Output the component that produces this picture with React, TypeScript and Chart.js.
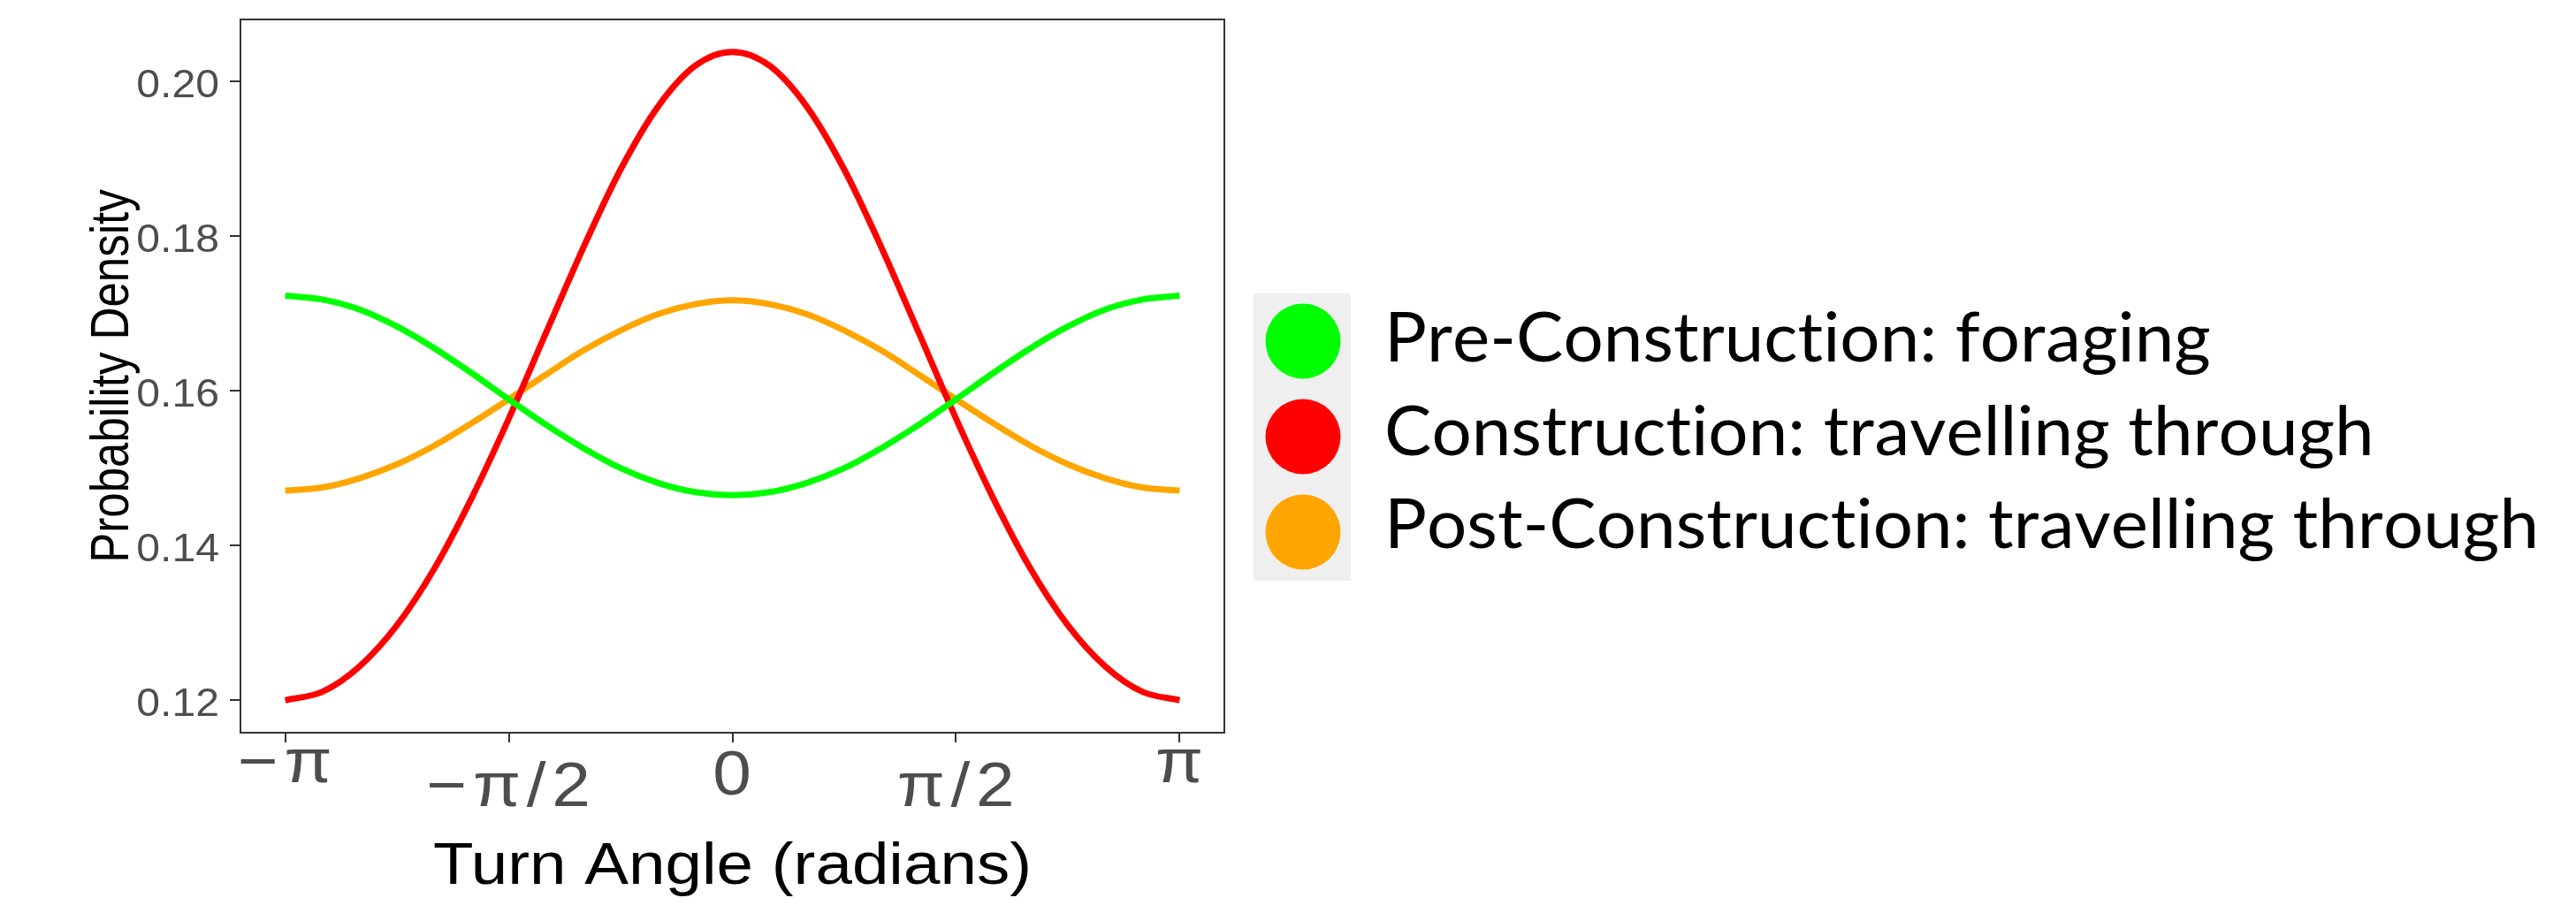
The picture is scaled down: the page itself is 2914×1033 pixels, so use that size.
import React, { useEffect, useRef } from "react";
import { Chart, registerables } from "chart.js";

Chart.register(...registerables);

// Turn angle (radians), sampled every pi/12 from -pi to pi
const ANGLES = [
  -3.1416, -2.8798, -2.618, -2.3562, -2.0944, -1.8326, -1.5708, -1.309, -1.0472,
  -0.7854, -0.5236, -0.2618, 0, 0.2618, 0.5236, 0.7854, 1.0472, 1.309, 1.5708,
  1.8326, 2.0944, 2.3562, 2.618, 2.8798, 3.1416,
];

// Probability density per behavioural state
const PRE_FORAGING = [
  0.1723, 0.1718, 0.1705, 0.1683, 0.1655, 0.1623, 0.1589, 0.1556, 0.1526, 0.15,
  0.1481, 0.1469, 0.1465, 0.1469, 0.1481, 0.15, 0.1526, 0.1556, 0.1589, 0.1623,
  0.1655, 0.1683, 0.1705, 0.1718, 0.1723,
];
const CONSTRUCTION_TRAVEL = [
  0.12, 0.1211, 0.1244, 0.1297, 0.137, 0.1461, 0.1564, 0.1675, 0.1785, 0.1886,
  0.1967, 0.202, 0.2038, 0.202, 0.1967, 0.1886, 0.1785, 0.1675, 0.1564, 0.1461,
  0.137, 0.1297, 0.1244, 0.1211, 0.12,
];
const POST_TRAVEL = [
  0.1471, 0.1475, 0.1487, 0.1505, 0.1529, 0.1558, 0.1589, 0.1621, 0.1652, 0.1678,
  0.1699, 0.1712, 0.1717, 0.1712, 0.1699, 0.1678, 0.1652, 0.1621, 0.1589, 0.1558,
  0.1529, 0.1505, 0.1487, 0.1475, 0.1471,
];

const SERIES_NAMES = [
  "Pre-Construction: foraging",
  "Construction: travelling through",
  "Post-Construction: travelling through",
];
const SERIES_VALUES = [PRE_FORAGING, CONSTRUCTION_TRAVEL, POST_TRAVEL];
const SERIES_COLORS = ["#00ff00", "#ff0000", "#ffa500"];

const X_TICKS = [-3.1416, -1.5708, 0, 1.5708, 3.1416];
const X_TICK_LABELS = ["−π", "−π/2", "0", "π/2", "π"];
const Y_TICKS = [0.12, 0.14, 0.16, 0.18, 0.2];
const Y_TICK_LABELS = ["0.12", "0.14", "0.16", "0.18", "0.20"];

const X_TITLE = "Turn Angle (radians)";
const Y_TITLE = "Probability Density";

const W = 2914;
const H = 1033;
const AXIS_FONT = '"Liberation Sans", Arial, Helvetica, sans-serif';

// 5% expansion of the data range on both axes
function expanded(values: number[]) {
  const lo = Math.min(...values);
  const hi = Math.max(...values);
  const pad = (hi - lo) * 0.05;
  return [lo - pad, hi + pad];
}

function stretchedText(
  ctx: CanvasRenderingContext2D,
  text: string,
  x: number,
  y: number,
  sx: number,
  sy = 1,
  rot = 0
) {
  ctx.save();
  ctx.translate(x, y);
  if (rot) ctx.rotate(rot);
  ctx.scale(sx, sy);
  ctx.fillText(text, 0, 0);
  ctx.restore();
}

// glyph-by-glyph text, so no ligatures get substituted
function plainWidth(ctx: CanvasRenderingContext2D, text: string) {
  let w = 0;
  for (const ch of text) w += ctx.measureText(ch).width;
  return w;
}
function plainText(ctx: CanvasRenderingContext2D, text: string, x: number, y: number, sx: number) {
  ctx.save();
  ctx.translate(x, y);
  ctx.scale(sx, 1);
  let cx = 0;
  for (const ch of text) {
    ctx.fillText(ch, cx, 0);
    cx += ctx.measureText(ch).width;
  }
  ctx.restore();
}

const panelPlugin = {
  id: "panelDecor",
  afterDatasetsDraw(chart: any) {
    const { ctx, chartArea: a } = chart;
    ctx.save();
    ctx.strokeStyle = "#333333";
    ctx.lineWidth = 2;
    ctx.strokeRect(a.left, a.top, a.right - a.left, a.bottom - a.top);
    ctx.restore();
  },
  afterDraw(chart: any) {
    const { ctx, chartArea: a } = chart;
    const xs = chart.scales.x;
    const ys = chart.scales.y;

    // y tick labels
    ctx.save();
    ctx.fillStyle = "#4d4d4d";
    ctx.font = `45px ${AXIS_FONT}`;
    ctx.textAlign = "right";
    ctx.textBaseline = "alphabetic";
    Y_TICKS.forEach((v, i) => {
      stretchedText(ctx, Y_TICK_LABELS[i], a.left - 24, ys.getPixelForValue(v) + 18, 1.07);
    });
    ctx.restore();

    // x tick labels (fractions sit lower, as in plotmath)
    const baseOffsets = [56, 83, 70, 83, 56];
    ctx.save();
    ctx.fillStyle = "#4d4d4d";
    ctx.font = `70px ${AXIS_FONT}`;
    ctx.textAlign = "center";
    ctx.textBaseline = "alphabetic";
    (ctx as any).letterSpacing = "6px";
    X_TICKS.forEach((v, i) => {
      stretchedText(ctx, X_TICK_LABELS[i], xs.getPixelForValue(v) + 3, a.bottom + baseOffsets[i], 1.12);
    });
    ctx.restore();

    // axis titles
    ctx.save();
    ctx.fillStyle = "#000000";
    ctx.font = `66px ${AXIS_FONT}`;
    ctx.textAlign = "center";
    ctx.textBaseline = "alphabetic";
    stretchedText(ctx, X_TITLE, (a.left + a.right) / 2, 1000, 1.13);
    ctx.font = `51px ${AXIS_FONT}`;
    stretchedText(ctx, Y_TITLE, 145, (a.top + a.bottom) / 2, 1, 1.18, -Math.PI / 2);
    ctx.restore();

    // legend
    const box = { x: 1418, y: 332, w: 110, h: 325 };
    const dotX = 1474;
    const dotY = [386, 494, 602];
    const textX = 1566;
    const textY = [409, 515, 620];
    ctx.save();
    ctx.fillStyle = "#efefef";
    ctx.fillRect(box.x, box.y, box.w, box.h);
    SERIES_COLORS.forEach((c, i) => {
      ctx.beginPath();
      ctx.fillStyle = c;
      ctx.arc(dotX, dotY[i], 42.5, 0, Math.PI * 2);
      ctx.fill();
    });
    ctx.fillStyle = "#000000";
    ctx.font = '77px Lato, "Open Sans", sans-serif';
    ctx.textAlign = "left";
    ctx.textBaseline = "alphabetic";
    const sx = 1306 / plainWidth(ctx, SERIES_NAMES[2]);
    SERIES_NAMES.forEach((name, i) => {
      plainText(ctx, name, textX, textY[i], sx);
    });
    ctx.restore();
  },
};

export default function App() {
  const canvasRef = useRef<HTMLCanvasElement | null>(null);

  useEffect(() => {
    const canvas = canvasRef.current;
    if (!canvas) return;
    const [xMin, xMax] = expanded(ANGLES);
    const [yMin, yMax] = expanded(SERIES_VALUES.flat());

    const chart = new Chart(canvas, {
      type: "line",
      data: {
        datasets: SERIES_VALUES.map((vals, i) => ({
          label: SERIES_NAMES[i],
          data: ANGLES.map((x, j) => ({ x, y: vals[j] })),
          borderColor: SERIES_COLORS[i],
          backgroundColor: SERIES_COLORS[i],
          borderWidth: 7,
          pointRadius: 0,
          fill: false,
          cubicInterpolationMode: "monotone" as const,
        })),
      },
      options: {
        animation: false,
        responsive: false,
        maintainAspectRatio: false,
        devicePixelRatio: 1,
        layout: { padding: { left: 0, top: 22, right: W - 1385, bottom: 0 } },
        plugins: {
          legend: { display: false },
          tooltip: { enabled: false },
        },
        scales: {
          x: {
            type: "linear",
            min: xMin,
            max: xMax,
            afterBuildTicks: (s: any) => {
              s.ticks = X_TICKS.map((value) => ({ value }));
            },
            afterFit: (s: any) => {
              s.height = H - 829;
            },
            ticks: { display: false },
            grid: {
              display: true,
              drawOnChartArea: false,
              drawTicks: true,
              tickLength: 11,
              color: "#333333",
              lineWidth: 2,
            },
            border: { display: false },
          },
          y: {
            type: "linear",
            min: yMin,
            max: yMax,
            afterBuildTicks: (s: any) => {
              s.ticks = Y_TICKS.map((value) => ({ value }));
            },
            afterFit: (s: any) => {
              s.width = 272;
            },
            ticks: { display: false },
            grid: {
              display: true,
              drawOnChartArea: false,
              drawTicks: true,
              tickLength: 12,
              color: "#333333",
              lineWidth: 2,
            },
            border: { display: false },
          },
        },
      },
      plugins: [panelPlugin],
    });

    return () => chart.destroy();
  }, []);

  return (
    <div
      style={{
        position: "absolute",
        left: 0,
        top: 0,
        width: W,
        height: H,
        background: "#ffffff",
      }}
    >
      <canvas ref={canvasRef} width={W} height={H} style={{ width: W, height: H, display: "block" }} />
    </div>
  );
}
